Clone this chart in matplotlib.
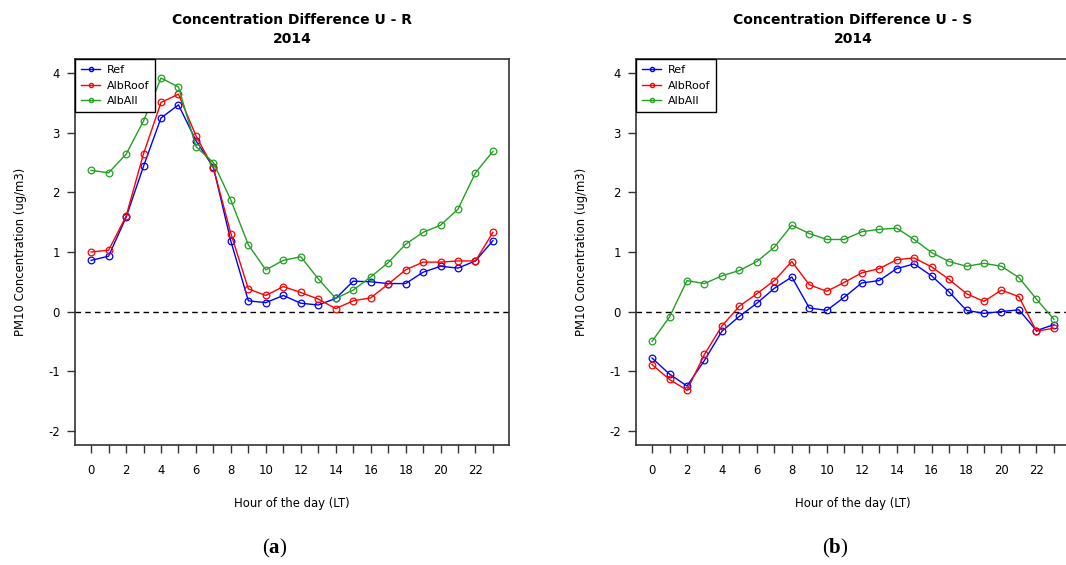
import numpy as np
import matplotlib.pyplot as plt
from matplotlib.lines import Line2D

plt.rcParams['font.family'] = ['DejaVu Sans']
plt.rcParams['mathtext.fontset'] = 'custom'
plt.rcParams['mathtext.rm'] = 'Liberation Serif'
plt.rcParams['mathtext.bf'] = 'Liberation Serif:bold'

hours = np.arange(24)

# U - R differences, PM10 (ug/m3)
ur_ref = [0.86, 0.93, 1.58, 2.44, 3.25, 3.47, 2.87, 2.42, 1.18, 0.18, 0.15, 0.27,
          0.14, 0.11, 0.22, 0.51, 0.50, 0.47, 0.47, 0.66, 0.76, 0.73, 0.85, 1.19]
ur_albroof = [1.00, 1.03, 1.60, 2.65, 3.51, 3.65, 2.95, 2.41, 1.31, 0.38, 0.27, 0.42,
              0.32, 0.21, 0.05, 0.18, 0.23, 0.46, 0.70, 0.83, 0.83, 0.85, 0.85, 1.33]
ur_alball = [2.37, 2.33, 2.64, 3.20, 3.92, 3.77, 2.77, 2.50, 1.87, 1.12, 0.70, 0.86,
             0.92, 0.55, 0.22, 0.36, 0.58, 0.82, 1.13, 1.33, 1.45, 1.72, 2.33, 2.69]

# U - S differences
us_ref = [-0.78, -1.05, -1.25, -0.82, -0.33, -0.08, 0.14, 0.39, 0.58, 0.06, 0.02, 0.24,
          0.48, 0.52, 0.72, 0.80, 0.60, 0.33, 0.02, -0.03, 0.00, 0.03, -0.32, -0.22]
us_albroof = [-0.89, -1.14, -1.32, -0.72, -0.24, 0.09, 0.30, 0.52, 0.84, 0.45, 0.34, 0.49,
              0.65, 0.72, 0.87, 0.90, 0.75, 0.54, 0.30, 0.17, 0.36, 0.25, -0.33, -0.28]
us_alball = [-0.50, -0.09, 0.52, 0.47, 0.60, 0.69, 0.84, 1.08, 1.45, 1.31, 1.21, 1.21,
             1.34, 1.38, 1.40, 1.21, 0.99, 0.84, 0.76, 0.81, 0.76, 0.57, 0.21, -0.13]

series_names = ['Ref', 'AlbRoof', 'AlbAll']
colors = ['#0000ff', '#ff0000', '#22a022']
y_ticks = [-2, -1, 0, 1, 2, 3, 4]

axis_col = '#333333'


def draw_panel(ax, data, title):
    for vals, c in zip(data, colors):
        ax.plot(hours, vals, color=c, lw=1.0, marker='o', markersize=4.8,
                mfc='none', mec=c, mew=0.9)
    ax.axhline(0, color='black', lw=1.0, ls=(0, (4, 3)), zorder=1)

    ax.set_xlim(-0.92, 23.92)
    ax.set_ylim(-2.24, 4.24)
    ax.set_xticks(hours)
    ax.set_xticklabels([str(h) if h % 2 == 0 else '' for h in hours])
    ax.set_yticks(y_ticks)
    ax.set_yticklabels([str(v) for v in y_ticks])

    for sp in ax.spines.values():
        sp.set_color(axis_col)
        sp.set_linewidth(1.2)
    ax.tick_params(axis='both', direction='out', length=6, width=1.0,
                   color=axis_col, labelsize=8.4)
    ax.tick_params(axis='x', pad=8)
    ax.tick_params(axis='y', pad=5)

    ax.set_xlabel('Hour of the day (LT)', fontsize=8.4, labelpad=14)
    ax.set_ylabel('PM10 Concentration (ug/m3)', fontsize=8.4, labelpad=15)
    ax.set_title(title + '\n2014', fontsize=10, fontweight='bold', pad=11.5,
                 linespacing=1.45)

    handles = [Line2D([], [], color=c, lw=1.0, marker='o', markersize=3,
                      mfc='none', mec=c, mew=1.0) for c in colors]
    leg = ax.legend(handles, series_names, loc='upper left', fontsize=8,
                    borderaxespad=0, fancybox=False, framealpha=1,
                    edgecolor='black', handlelength=1.7, handletextpad=0.6,
                    labelspacing=0.5, borderpad=0.55)
    leg.get_frame().set_linewidth(1.0)


fig = plt.figure(figsize=(10.66, 5.65), dpi=100)
ax1 = fig.add_axes([0.0704, 0.2124, 0.4071, 0.6832])
ax2 = fig.add_axes([0.5966, 0.2124, 0.4071, 0.6832])

draw_panel(ax1, [ur_ref, ur_albroof, ur_alball], 'Concentration Difference U - R')
draw_panel(ax2, [us_ref, us_albroof, us_alball], 'Concentration Difference U - S')

fig.text(275 / 1066, 1 - 548 / 565, r'($\mathbf{a}$)', ha='center', va='center',
         fontsize=15, family='Liberation Serif')
fig.text(835 / 1066, 1 - 548 / 565, r'($\mathbf{b}$)', ha='center', va='center',
         fontsize=15, family='Liberation Serif')

fig.savefig('out.png', dpi=100)
